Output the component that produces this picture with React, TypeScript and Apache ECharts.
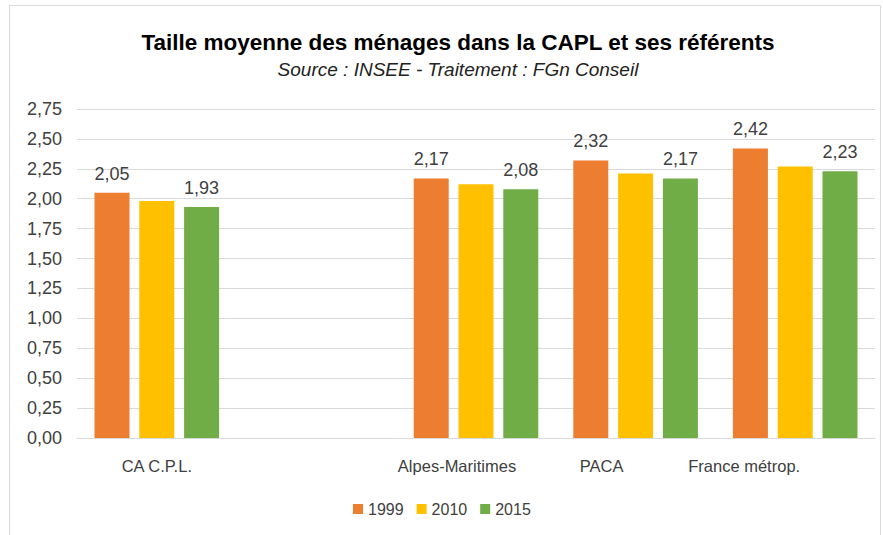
import React, { useEffect, useRef } from "react";
import * as echarts from "echarts";

const categories = ["CA C.P.L.", "", "Alpes-Maritimes", "PACA", "France métrop."];
const labelShift = [0, 0, 38, 68, 102];
const years = ["1999", "2010", "2015"];
const values1999 = [2.05, null, 2.17, 2.32, 2.42];
const values2010 = [1.98, null, 2.12, 2.21, 2.27];
const values2015 = [1.93, null, 2.08, 2.17, 2.23];
const colors = ["#ED7D31", "#FFC000", "#70AD47"];
const showLabels = [true, false, true];

const fmt = (v: number) => v.toFixed(2).replace(".", ",");

export default function App() {
  const ref = useRef<HTMLDivElement>(null);
  useEffect(() => {
    if (!ref.current) return;
    const chart = echarts.init(ref.current, null, { renderer: "svg" });
    const font = "'Liberation Sans', Arial, sans-serif";
    const seriesData = [values1999, values2010, values2015];
    const rich: any = {};
    categories.forEach((c, i) => {
      rich["c" + i] = {
        fontSize: 16.5,
        color: "#404040",
        fontFamily: font,
        padding: [0, labelShift[i], 0, 0],
      };
    });
    chart.setOption({
      animation: false,
      backgroundColor: "#ffffff",
      textStyle: { fontFamily: font },
      title: {
        text: "Taille moyenne des ménages dans la CAPL et ses référents",
        subtext: "Source : INSEE - Traitement : FGn Conseil",
        left: 453,
        textAlign: "center",
        top: 26,
        itemGap: 6,
        textStyle: { fontSize: 22.5, fontWeight: "bold", color: "#000000", fontFamily: font },
        subtextStyle: { fontSize: 19, fontStyle: "italic", color: "#222222", fontFamily: font },
      },
      graphic: [
        {
          type: "rect",
          shape: { x: 9.5, y: 5.5, width: 871, height: 560 },
          style: { fill: "none", stroke: "#d9d9d9", lineWidth: 1 },
          silent: true,
        },
      ],
      legend: {
        data: years,
        left: 348,
        top: 496,
        itemWidth: 10,
        itemHeight: 10,
        itemGap: 13,
        icon: "rect",
        textStyle: { fontSize: 16, color: "#404040", fontFamily: font },
      },
      grid: { left: 77, right: 8, top: 109, bottom: 97, containLabel: false },
      xAxis: {
        type: "category",
        data: categories,
        axisLine: { lineStyle: { color: "#d9d9d9", width: 1 } },
        axisTick: { show: false },
        axisLabel: {
          fontSize: 16.5,
          color: "#404040",
          margin: 19,
          interval: 0,
          formatter: (v: string, idx: number) => (v ? "{c" + idx + "|" + v + "}" : ""),
          rich,
        },
      },
      yAxis: {
        type: "value",
        min: 0,
        max: 2.75,
        interval: 0.25,
        axisLine: { show: false },
        axisTick: { show: false },
        splitLine: { lineStyle: { color: "#d9d9d9", width: 1 } },
        axisLabel: {
          fontSize: 18,
          color: "#404040",
          margin: 15,
          formatter: (v: number) => fmt(v),
        },
      },
      series: years.map((y, i) => ({
        name: y,
        type: "bar",
        data: seriesData[i],
        barWidth: 35,
        barGap: "28%",
        itemStyle: { color: colors[i] },
        label: {
          show: showLabels[i],
          position: "top",
          distance: 10,
          fontSize: 18,
          color: "#404040",
          formatter: (p: any) => fmt(p.value),
        },
      })),
    });
    return () => chart.dispose();
  }, []);
  return (
    <div
      ref={ref}
      style={{ position: "absolute", left: 0, top: 0, width: 883, height: 535 }}
    />
  );
}
